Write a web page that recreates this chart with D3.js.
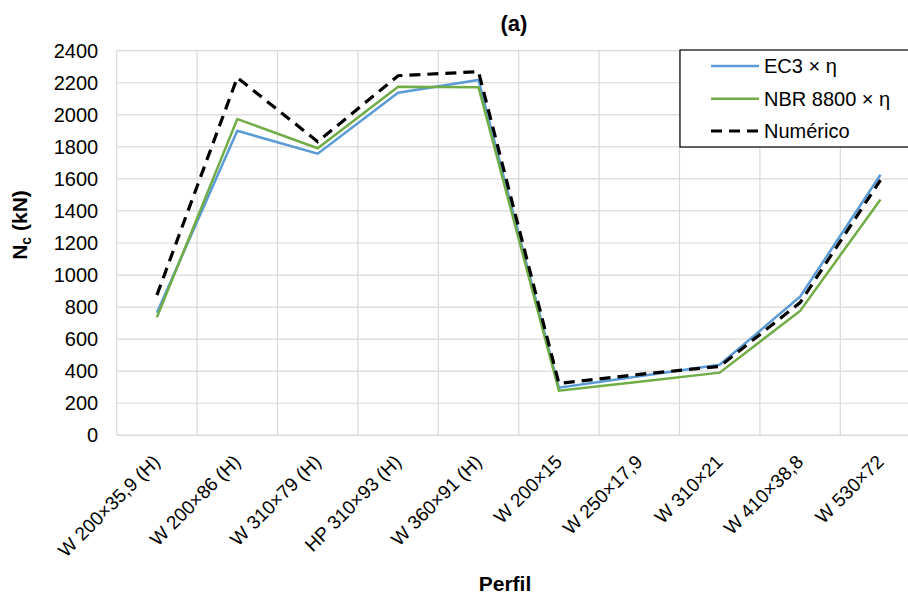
<!DOCTYPE html>
<html>
<head>
<meta charset="utf-8">
<script src="https://cdn.jsdelivr.net/npm/d3@7"></script>
<style>
  html, body { margin: 0; padding: 0; background: #fff; }
  svg { display: block; font-family: "Liberation Sans", Arial, sans-serif; }
</style>
</head>
<body>
<svg id="chart" width="908" height="594"></svg>
<script>
// Perfis analisados
const categories = [
  "W 200×35,9 (H)", "W 200×86 (H)", "W 310×79 (H)", "HP 310×93 (H)", "W 360×91 (H)",
  "W 200×15", "W 250×17,9", "W 310×21", "W 410×38,8", "W 530×72"
];
// Resistência à compressão Nc (kN)
const ec3 = [765, 1900, 1757, 2138, 2217, 297, 368, 440, 865, 1626];
const nbr = [736, 1974, 1791, 2175, 2172, 278, 334, 391, 776, 1472];
const numerico = [875, 2232, 1832, 2244, 2269, 324, 380, 430, 828, 1593];
const yTicks = [0, 200, 400, 600, 800, 1000, 1200, 1400, 1600, 1800, 2000, 2200, 2400];

const series = [
  { name: "EC3 × η", values: ec3, color: "#5B9BD5", width: 2.5, dash: null },
  { name: "NBR 8800 × η", values: nbr, color: "#70AD47", width: 2.5, dash: null },
  { name: "Numérico", values: numerico, color: "#000000", width: 3.2, dash: "11,7" }
];

const svg = d3.select("#chart");
const plot = { left: 116.7, right: 920.7, top: 50.7, bottom: 435.3 };

const x = d3.scaleBand().domain(categories).range([plot.left, plot.right]).padding(0);
const y = d3.scaleLinear().domain([0, 2400]).range([plot.bottom, plot.top]);
const cx = d => x(d) + x.bandwidth() / 2;

// Grade horizontal
svg.append("g").selectAll("line").data(yTicks).join("line")
  .attr("x1", plot.left).attr("x2", plot.right)
  .attr("y1", d => y(d)).attr("y2", d => y(d))
  .attr("stroke", "#D9D9D9").attr("stroke-width", d => d === 0 ? 1.6 : 1.2);

// Grade vertical (limites das categorias)
const bounds = categories.map(c => x(c)).concat([plot.right]);
svg.append("g").selectAll("line").data(bounds).join("line")
  .attr("x1", d => d).attr("x2", d => d)
  .attr("y1", plot.top).attr("y2", plot.bottom)
  .attr("stroke", "#D9D9D9").attr("stroke-width", 1.2);

// Eixo Y
const yAxis = svg.append("g")
  .attr("transform", `translate(${plot.left},0)`)
  .call(d3.axisLeft(y).tickValues(yTicks).tickFormat(d3.format("d")).tickSize(0).tickPadding(18.5));
yAxis.select(".domain").remove();
yAxis.selectAll("text")
  .attr("font-size", 20).attr("fill", "#000")
  .attr("font-family", "'Liberation Sans', Arial, sans-serif");

// Eixo X
const xAxis = svg.append("g")
  .attr("transform", `translate(0,${plot.bottom})`)
  .call(d3.axisBottom(x).tickSize(0).tickPadding(0));
xAxis.select(".domain").remove();
xAxis.selectAll(".tick text")
  .attr("font-size", 19).attr("fill", "#000")
  .attr("font-family", "'Liberation Sans', Arial, sans-serif")
  .attr("text-anchor", "end")
  .attr("x", 0).attr("y", 0).attr("dy", "0.35em")
  .attr("transform", "translate(-0.3,23) rotate(-45)");

// Linhas das séries
const line = d3.line().x((v, i) => cx(categories[i])).y(v => y(v));
svg.append("g").selectAll("path").data(series).join("path")
  .attr("d", s => line(s.values))
  .attr("fill", "none")
  .attr("stroke", s => s.color)
  .attr("stroke-width", s => s.width)
  .attr("stroke-dasharray", s => s.dash)
  .attr("stroke-linejoin", "miter");

// Título
svg.append("text")
  .attr("x", 514).attr("y", 31)
  .attr("text-anchor", "middle")
  .attr("font-size", 22).attr("font-weight", "bold")
  .text("(a)");

// Título do eixo Y: Nc (kN)
const yTitle = svg.append("text")
  .attr("transform", "translate(27,225) rotate(-90)")
  .attr("text-anchor", "middle")
  .attr("font-size", 21).attr("font-weight", "bold");
yTitle.append("tspan").text("N");
yTitle.append("tspan").attr("font-size", 14).attr("dy", 4).text("c");
yTitle.append("tspan").attr("dy", -4).text(" (kN)");

// Título do eixo X
svg.append("text")
  .attr("x", 505).attr("y", 591)
  .attr("text-anchor", "middle")
  .attr("font-size", 21).attr("font-weight", "bold")
  .text("Perfil");

// Legenda
const legend = svg.append("g");
legend.append("rect")
  .attr("x", 680).attr("y", 50).attr("width", 260).attr("height", 97)
  .attr("fill", "#fff").attr("stroke", "#000").attr("stroke-width", 1.2);
const rows = [66, 98.7, 131];
const item = legend.selectAll("g.item").data(series).join("g")
  .attr("class", "item")
  .attr("transform", (s, i) => `translate(0,${rows[i]})`);
item.append("line")
  .attr("x1", 711).attr("x2", 759).attr("y1", 0).attr("y2", 0)
  .attr("stroke", s => s.color)
  .attr("stroke-width", s => s.width)
  .attr("stroke-dasharray", s => s.dash);
item.append("text")
  .attr("x", 764).attr("y", 0).attr("dy", "0.35em")
  .attr("font-size", 20)
  .text(s => s.name);
</script>
</body>
</html>
